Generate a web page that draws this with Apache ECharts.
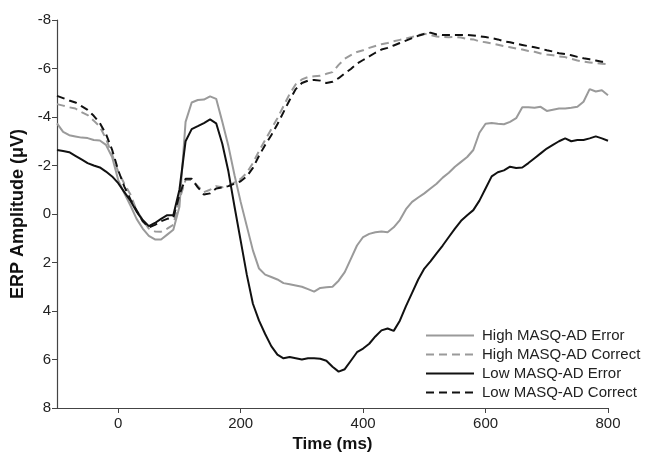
<!DOCTYPE html>
<html>
<head>
<meta charset="utf-8">
<script src="https://cdn.jsdelivr.net/npm/echarts@6/dist/echarts.min.js"></script>
<style>
html,body{margin:0;padding:0;background:#fff;}
#chart{width:646px;height:459px;}
</style>
</head>
<body>
<div id="chart"></div>
<script>
// Time points (ms)
const times = [];
for (let t = -100; t <= 800; t += 10) times.push(t);

const seriesNames = ['High MASQ-AD Error', 'High MASQ-AD Correct', 'Low MASQ-AD Error', 'Low MASQ-AD Correct'];

const highError = [
 -3.74,-3.39,-3.25,-3.2,-3.15,-3.13,-3.05,-3.03,-2.85,-2.35,
 -1.4,-0.85,-0.35,0.2,0.6,0.9,1.05,1.05,0.85,0.65,
 -0.3,-3.8,-4.6,-4.7,-4.72,-4.85,-4.75,-3.8,-2.8,-1.6,
 -0.5,0.5,1.5,2.25,2.5,2.6,2.7,2.85,2.9,2.95,
 3.0,3.1,3.2,3.05,3.02,3.0,2.75,2.4,1.85,1.3,
 0.95,0.82,0.75,0.72,0.75,0.55,0.25,-0.2,-0.5,-0.68,
 -0.85,-1.05,-1.25,-1.5,-1.7,-1.95,-2.15,-2.35,-2.64,-3.35,
 -3.72,-3.75,-3.72,-3.7,-3.8,-3.95,-4.4,-4.4,-4.38,-4.42,
 -4.25,-4.3,-4.35,-4.35,-4.38,-4.42,-4.63,-5.15,-5.05,-5.1,
 -4.9
];

const highCorrect = [
 -4.53,-4.47,-4.4,-4.35,-4.2,-4.08,-3.85,-3.6,-3.1,-2.45,
 -1.75,-1.25,-0.8,-0.15,0.25,0.6,0.72,0.73,0.6,0.45,
 -0.6,-1.4,-1.4,-1.15,-0.9,-1.0,-1.15,-1.1,-1.15,-1.3,
 -1.45,-1.7,-2.1,-2.6,-3.05,-3.5,-3.95,-4.45,-4.95,-5.35,
 -5.55,-5.65,-5.68,-5.7,-5.78,-5.85,-6.15,-6.4,-6.55,-6.68,
 -6.75,-6.85,-6.93,-7.0,-7.05,-7.12,-7.18,-7.24,-7.3,-7.38,
 -7.43,-7.38,-7.32,-7.3,-7.29,-7.3,-7.28,-7.22,-7.2,-7.12,
 -7.08,-7.03,-6.98,-6.92,-6.88,-6.82,-6.78,-6.72,-6.69,-6.62,
 -6.58,-6.55,-6.5,-6.47,-6.4,-6.33,-6.28,-6.25,-6.22,-6.2,
 -6.18
];

const lowError = [
 -2.64,-2.6,-2.55,-2.4,-2.25,-2.1,-2.0,-1.92,-1.75,-1.55,
 -1.27,-0.9,-0.55,-0.1,0.25,0.5,0.37,0.2,0.05,0.05,
 -1.0,-3.0,-3.5,-3.62,-3.75,-3.9,-3.74,-2.9,-1.75,-0.3,
 1.1,2.5,3.7,4.4,4.95,5.45,5.8,5.95,5.9,5.95,
 6.0,5.95,5.95,5.97,6.05,6.3,6.5,6.4,6.05,5.7,
 5.55,5.35,5.05,4.8,4.72,4.82,4.4,3.8,3.25,2.7,
 2.25,1.95,1.62,1.3,0.95,0.6,0.28,0.05,-0.16,-0.55,
 -1.05,-1.55,-1.72,-1.8,-1.95,-1.9,-1.92,-2.1,-2.3,-2.5,
 -2.7,-2.85,-3.0,-3.12,-3.0,-3.05,-3.05,-3.12,-3.2,-3.12,
 -3.02
];

const lowCorrect = [
 -4.87,-4.78,-4.68,-4.6,-4.45,-4.29,-4.05,-3.75,-3.3,-2.65,
 -1.8,-1.13,-0.6,-0.15,0.3,0.55,0.45,0.3,0.2,0.15,
 -0.8,-1.45,-1.45,-1.1,-0.8,-0.85,-1.05,-1.1,-1.15,-1.25,
 -1.35,-1.55,-1.9,-2.4,-2.85,-3.25,-3.7,-4.2,-4.7,-5.15,
 -5.4,-5.5,-5.53,-5.5,-5.4,-5.45,-5.6,-5.8,-5.98,-6.2,
 -6.35,-6.5,-6.65,-6.78,-6.85,-6.95,-7.05,-7.15,-7.25,-7.35,
 -7.42,-7.48,-7.4,-7.38,-7.38,-7.38,-7.38,-7.38,-7.36,-7.33,
 -7.3,-7.25,-7.2,-7.12,-7.08,-7.02,-6.97,-6.92,-6.88,-6.82,
 -6.75,-6.7,-6.63,-6.6,-6.55,-6.48,-6.42,-6.38,-6.33,-6.28,
 -6.28
];

const xTicks = [0, 200, 400, 600, 800];
const yTicks = [-8, -6, -4, -2, 0, 2, 4, 6, 8];

const pair = arr => times.map((t, i) => [t, arr[i]]);

const font = '"Liberation Sans", Arial, sans-serif';
const gray = '#9a9a9a';
const black = '#111111';

const chart = echarts.init(document.getElementById('chart'), null, {renderer: 'canvas'});
chart.setOption({
  animation: false,
  backgroundColor: '#ffffff',
  textStyle: {fontFamily: font},
  grid: {left: 57, right: 38, top: 20, bottom: 51, containLabel: false},
  legend: {
    orient: 'vertical',
    left: 420,
    top: 323,
    itemWidth: 48,
    itemHeight: 14,
    itemGap: 4,
    itemStyle: {opacity: 0, borderWidth: 0},
    textStyle: {fontFamily: font, fontSize: 15, color: '#222', padding: [0, 0, 0, 3]},
    data: seriesNames
  },
  xAxis: {
    type: 'value',
    min: -100,
    max: 800,
    splitLine: {show: false},
    axisLine: {onZero: false, lineStyle: {color: '#444', width: 1.2}},
    axisTick: {show: true, length: 5, customValues: xTicks, lineStyle: {color: '#444'}},
    axisLabel: {customValues: xTicks, fontFamily: font, fontSize: 15, color: '#222', margin: 8},
    name: 'Time (ms)',
    nameLocation: 'middle',
    nameGap: 28,
    nameTextStyle: {fontFamily: font, fontSize: 17, fontWeight: 'bold', color: '#111'}
  },
  yAxis: {
    type: 'value',
    inverse: true,
    min: -8,
    max: 8,
    interval: 2,
    splitLine: {show: false},
    axisLine: {show: true, onZero: false, lineStyle: {color: '#444', width: 1.2}},
    axisTick: {show: true, length: 5, lineStyle: {color: '#444'}},
    axisLabel: {fontFamily: font, fontSize: 15, color: '#222', margin: 6},
    name: 'ERP Amplitude (\u03BCV)',
    nameLocation: 'middle',
    nameRotate: 90,
    nameGap: 26,
    nameTextStyle: {fontFamily: font, fontSize: 18, fontWeight: 'bold', color: '#111'}
  },
  series: [
    {name: seriesNames[0], type: 'line', data: pair(highError), showSymbol: false, symbol: 'none',
     lineStyle: {color: gray, width: 2, type: 'solid'}, itemStyle: {color: gray}, z: 2},
    {name: seriesNames[1], type: 'line', data: pair(highCorrect), showSymbol: false, symbol: 'none',
     lineStyle: {color: gray, width: 2, type: [8, 5]}, itemStyle: {color: gray}, z: 2},
    {name: seriesNames[2], type: 'line', data: pair(lowError), showSymbol: false, symbol: 'none',
     lineStyle: {color: black, width: 2, type: 'solid'}, itemStyle: {color: black}, z: 3},
    {name: seriesNames[3], type: 'line', data: pair(lowCorrect), showSymbol: false, symbol: 'none',
     lineStyle: {color: black, width: 2, type: [8, 5]}, itemStyle: {color: black}, z: 3}
  ]
});
</script>
</body>
</html>
